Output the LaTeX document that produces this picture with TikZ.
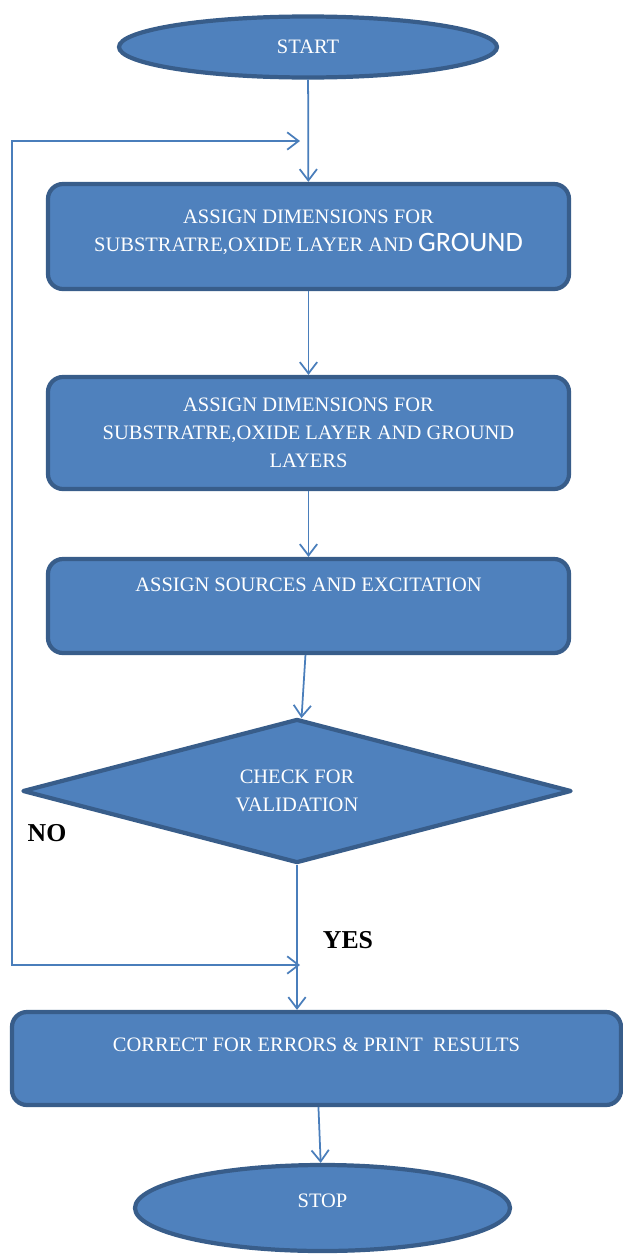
\documentclass[tikz,border=0pt]{standalone}
\usepackage{fontspec}
\setmainfont{Liberation Serif}
\newfontfamily\calibri{Carlito}
\usetikzlibrary{shapes.geometric,arrows.meta}
\definecolor{boxfill}{HTML}{4F81BD}
\definecolor{boxline}{HTML}{385D8A}
\definecolor{flowline}{HTML}{4A7EBB}

\tikzset{
  ->/.style={draw=flowline,line width=1.5pt,-{Straight Barb[length=3.4mm,width=5.2mm]}},
  <->/.style={draw=flowline,line width=1.5pt,{Straight Barb[length=3.4mm,width=5.2mm]}-{Straight Barb[length=3.4mm,width=5.2mm]}},
  term/.style={ellipse,draw=boxline,fill=boxfill,line width=3.6pt,inner sep=0pt,align=center},
  block/.style={rectangle,rounded corners=0.45cm,draw=boxline,fill=boxfill,line width=3.6pt,align=center},
  decision/.style={diamond,aspect=3.8,draw=boxline,fill=boxfill,line width=3.6pt,line join=round,inner sep=0pt,align=center},
  answer/.style={text=black,font=\bfseries\fontsize{22}{26}\selectfont,inner sep=0pt}
}
\tikzstyle{every node}=[text=white,font=\fontsize{17.5}{24}\selectfont]

\begin{document}
\begin{tikzpicture}[x=0.03cm,y=-0.03cm]
    \useasboundingbox (0,0) rectangle (623,1256);
    \node [term, minimum width=11.34cm, minimum height=1.83cm] (A) at (308,47) {START};
    \node [block, minimum width=15.63cm, minimum height=3.15cm] (B) at (308.5,236.5)
      {ASSIGN DIMENSIONS FOR\\SUBSTRATRE,OXIDE LAYER AND {\calibri\fontsize{24}{28}\selectfont GROUND}\\[-14pt]\mbox{}};
    \node [block, minimum width=15.63cm, minimum height=3.36cm] (C) at (308.5,433)
      {ASSIGN DIMENSIONS FOR\\SUBSTRATRE,OXIDE LAYER AND GROUND\\LAYERS};
    \node [block, minimum width=15.63cm, minimum height=2.82cm] (D) at (308.5,606)
      {ASSIGN SOURCES AND EXCITATION\\[12pt]\mbox{}};
    \node [decision, minimum width=16.47cm, minimum height=4.32cm] (E) at (297,791)
      {CHECK FOR\\VALIDATION};
    \node [block, minimum width=18.27cm, minimum height=2.79cm] (F) at (316.5,1058.5)
      {CORRECT FOR ERRORS \& PRINT\ \ RESULTS\\\mbox{}};
    \node [term, minimum width=11.25cm, minimum height=2.58cm] (G) at (322.5,1208)
      {STOP\\[-12pt]\mbox{}};
    \node [answer] (N) at (47,833) {NO};
    \node [answer] (Y) at (348,940) {YES};
    \coordinate (P) at (300,965);
    \coordinate (Q) at (300,141);
    \draw [->] (A) -- (B);
    \draw [->] (B) -- (C);
    \draw [->] (C) -- (D);
    \draw [->] (D) -- (E);
    \draw [->] (E.south) -- (E.south |- F.north);
    \draw [->] (F) -- (G);
    \draw [<->] (P) -- ++(-288,0) |- (Q);
\end{tikzpicture}
\end{document}
